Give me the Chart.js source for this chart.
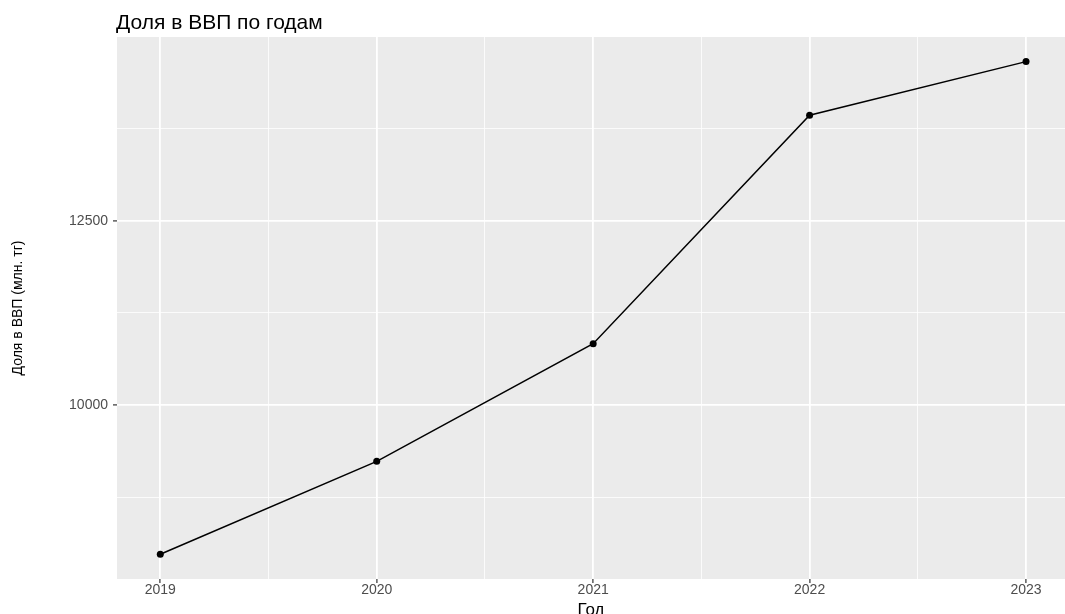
<!DOCTYPE html>
<html>
<head>
<meta charset="utf-8">
<script src="https://cdn.jsdelivr.net/npm/chart.js@4/dist/chart.umd.min.js"></script>
<style>
  html, body { margin: 0; padding: 0; background: #fff; overflow: hidden; }
  canvas { display: block; }
</style>
</head>
<body>
<canvas id="gdpChart" width="1065" height="614"></canvas>
<script>
const years = [2019, 2020, 2021, 2022, 2023];
const shareGdp = [7975, 9236, 10832, 13931, 14658];

const xMajor = [2019, 2020, 2021, 2022, 2023];
const xMinor = [2019.5, 2020.5, 2021.5, 2022.5];
const yMajor = [10000, 12500];
const yMinor = [8750, 11250, 13750];

const titleText = "Доля в ВВП по годам";
const xTitle = "Год";
const yTitle = "Доля в ВВП (млн. тг)";

const fam = "'Liberation Sans', Arial, sans-serif";
const tickFont = { family: fam, size: 14, lineHeight: 1 };

// серый фон панели как в ggplot + заголовок над панелью
const panelPlugin = {
    id: 'panel',
    beforeDraw(chart) {
        const { ctx, chartArea: a } = chart;
        ctx.save();
        ctx.fillStyle = '#EBEBEB';
        ctx.fillRect(a.left, a.top, a.right - a.left, a.bottom - a.top);
        ctx.restore();
    },
    afterDraw(chart) {
        const { ctx, chartArea: a } = chart;
        ctx.save();
        ctx.fillStyle = '#000';
        ctx.font = "21px " + fam;
        ctx.textBaseline = 'alphabetic';
        ctx.fillText(titleText, a.left - 1, 29);
        ctx.restore();
    }
};

const isMajor = (list) => (c) => c.tick && list.includes(c.tick.value);

new Chart(document.getElementById('gdpChart'), {
    type: 'line',
    data: {
        datasets: [{
            data: years.map((y, i) => ({ x: y, y: shareGdp[i] })),
            borderColor: '#000',
            borderWidth: 1.5,
            backgroundColor: '#000',
            pointRadius: 3.5,
            pointBorderWidth: 0,
            pointHoverRadius: 3.5,
            tension: 0,
            fill: false
        }]
    },
    options: {
        responsive: false,
        animation: false,
        layout: { autoPadding: false, padding: { top: 37, right: 0, bottom: 0, left: 0 } },
        plugins: { legend: { display: false }, tooltip: { enabled: false }, title: { display: false } },
        scales: {
            x: {
                type: 'linear',
                min: 2018.8,
                max: 2023.18,
                afterBuildTicks: (s) => { s.ticks = [...xMajor, ...xMinor].sort().map(v => ({ value: v })); },
                afterFit: (s) => { s.height = 35; },
                border: { display: false },
                grid: {
                    color: '#FFFFFF',
                    lineWidth: (c) => isMajor(xMajor)(c) ? 1.8 : 0.8,
                    tickColor: (c) => isMajor(xMajor)(c) ? '#333333' : 'rgba(0,0,0,0)',
                    tickLength: 4,
                    tickWidth: 1.2
                },
                ticks: {
                    autoSkip: false,
                    maxRotation: 0,
                    padding: 0,
                    color: '#4D4D4D',
                    font: tickFont,
                    callback: (v) => xMajor.includes(v) ? String(v) : ''
                },
                title: {
                    display: true,
                    text: xTitle,
                    color: '#000',
                    font: { family: fam, size: 17, lineHeight: 1 },
                    padding: { top: 0, bottom: -5 }
                }
            },
            y: {
                type: 'linear',
                min: 7640,
                max: 14992,
                afterBuildTicks: (s) => { s.ticks = [...yMinor, ...yMajor].sort((a, b) => a - b).map(v => ({ value: v })); },
                afterFit: (s) => { s.width = 117; },
                border: { display: false },
                grid: {
                    color: '#FFFFFF',
                    lineWidth: (c) => isMajor(yMajor)(c) ? 1.8 : 0.8,
                    tickColor: (c) => isMajor(yMajor)(c) ? '#333333' : 'rgba(0,0,0,0)',
                    tickLength: 4,
                    tickWidth: 1.2
                },
                ticks: {
                    autoSkip: false,
                    padding: 5,
                    color: '#4D4D4D',
                    font: tickFont,
                    callback: (v) => yMajor.includes(v) ? String(v) : ''
                },
                title: {
                    display: true,
                    text: yTitle,
                    color: '#000',
                    font: { family: fam, size: 14 },
                    padding: { top: 10, bottom: 0 }
                }
            }
        }
    },
    plugins: [panelPlugin]
});
</script>
</body>
</html>
